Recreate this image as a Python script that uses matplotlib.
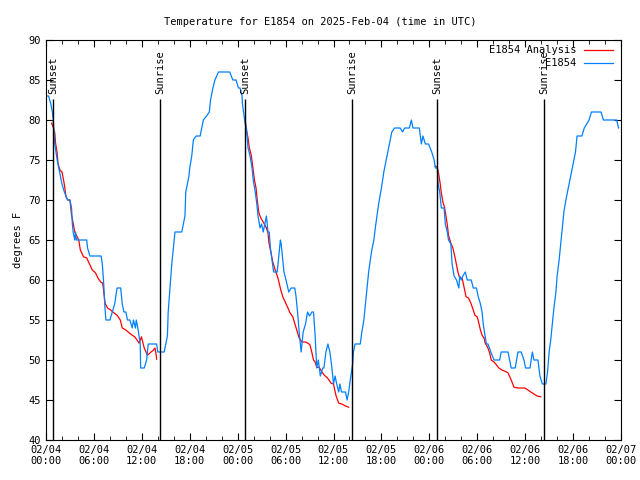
import pandas as pd
import matplotlib
matplotlib.use("Agg")
from matplotlib import pyplot as plt
import matplotlib.dates as mdates

base = pd.Timestamp("2025-02-04 00:00")

# observed temperature E1854 (hours since 02/04 00:00, degF)
obs_hours = [0.0, 0.33, 0.6, 0.8, 0.9, 1.1, 1.25, 1.4, 1.6, 1.8, 2.0, 2.3, 2.7, 3.0, 3.2, 3.3, 3.4, 3.6, 3.7, 3.8,
             5.1, 5.2, 5.5, 6.9, 7.05, 7.2, 7.35, 7.5, 8.0, 8.3, 8.6, 8.9, 9.35, 9.55, 9.75, 10.0, 10.2, 10.5, 10.8,
             10.95, 11.2, 11.3, 11.5, 11.8, 11.85, 12.3, 12.6, 12.8, 13.85, 14.0, 14.3, 14.8, 15.0, 15.2, 15.3, 15.45,
             15.6, 15.75, 15.95, 16.15, 16.3, 17.0, 17.2, 17.4, 17.5, 17.7, 17.9, 18.0, 18.25, 18.45, 18.8, 19.3, 19.5,
             19.7, 20.1, 20.45, 20.6, 20.9, 21.15, 21.6, 23.0, 23.4, 23.8, 24.1, 24.3, 24.55, 24.6, 24.8, 24.95, 25.1,
             25.3, 25.55, 25.8, 25.95, 26.2, 26.4, 26.55, 26.8, 27.0, 27.2, 27.5, 27.6, 27.8, 27.95, 28.1, 28.3, 28.5,
             28.7, 28.95, 29.1, 29.35, 29.45, 29.6, 29.8, 30.05, 30.4, 30.7, 31.15, 31.3, 31.5, 31.7, 31.95, 32.2, 32.5,
             32.75, 33.0, 33.3, 33.5, 33.7, 33.9, 34.1, 34.35, 34.65, 34.8, 35.05, 35.3, 35.55, 35.8, 36.0, 36.2, 36.4,
             36.65, 36.8, 37.0, 37.5, 37.7, 37.9, 38.1, 38.4, 38.5, 38.7, 39.35, 39.55, 39.8, 40.0, 40.2, 40.4, 40.75,
             41.05, 41.3, 41.65, 42.0, 42.3, 42.7, 43.0, 43.3, 43.65, 44.35, 44.65, 44.9, 45.5, 45.75, 45.95, 46.75,
             47.0, 47.2, 47.5, 47.9, 48.3, 48.6, 48.75, 49.0, 49.1, 49.3, 49.5, 49.85, 50.0, 50.25, 50.4, 50.7, 50.85,
             51.1, 51.4, 51.7, 51.8, 52.0, 52.2, 52.5, 52.75, 53.25, 53.5, 53.9, 54.1, 54.4, 54.6, 54.75, 54.9, 55.15,
             55.35, 55.7, 56.1, 56.8, 57.0, 57.85, 58.05, 58.25, 58.75, 59.1, 59.5, 59.85, 60.05, 60.6, 60.9, 61.1,
             61.3, 61.6, 61.85, 62.15, 62.3, 62.6, 62.8, 63.0, 63.2, 63.4, 63.6, 63.85, 64.0, 64.25, 64.45, 64.65,
             64.85, 65.1, 65.3, 65.5, 65.7, 65.9, 66.1, 66.3, 66.5, 67.1, 67.4, 67.7, 68.0, 68.3, 69.5, 69.8, 71.45,
             71.7]
obs_temp = [83, 83, 82, 81, 80, 77, 76, 75, 74, 73, 72, 71, 70, 70, 69, 67, 66, 65, 66, 65,
            65, 64, 63, 63, 62, 60, 57, 55, 55, 56, 57, 59, 59, 57, 56, 56, 55, 55, 54,
            55, 54, 55, 54, 52, 49, 49, 50, 52, 52, 51, 51, 51, 52, 53, 56, 58,
            60, 62, 64, 66, 66, 66, 67, 68, 71, 72, 73, 74, 75.5, 77.5, 78, 78, 79,
            80, 80.5, 81, 82.5, 84, 85, 86, 86, 85, 85, 84, 84, 83, 82, 80.5, 79.5, 79,
            76.5, 75.5, 74, 72.5, 71, 69.5, 68, 66.5, 67, 66, 67.5, 68, 66, 66, 64, 62.5, 61,
            61, 61, 62.5, 65, 64.5, 63, 61, 60, 58.5, 59, 59, 58, 56, 53.5, 51, 53.5, 54.5,
            56, 55.5, 56, 56, 53, 49, 50, 48, 49, 49, 51, 52, 51, 49, 47, 48, 47,
            46, 47, 46, 46, 45, 46, 47.5, 49.5, 51, 52, 52, 53.5, 55, 57, 59, 61, 63.5,
            65, 67, 69.5, 71.5, 73.5, 75.5, 77, 78.5, 79, 79, 78.5, 79, 79, 80, 79, 79,
            77, 78, 77, 77, 76, 75, 74, 74, 72, 71, 69, 69, 67, 66, 65, 64.5, 62,
            60.5, 60, 59, 60.5, 60, 60.5, 61, 60, 60, 59, 59, 58, 57, 56, 54.5, 53.5, 52,
            52, 51, 50, 50, 51, 51, 50, 49, 49, 51, 51, 50, 49, 49, 51, 50,
            50, 50, 48, 47, 47, 47, 48.5, 51, 52.5, 54.5, 56.5, 58.5, 60.5, 62.5, 64.5, 66.5,
            68.5, 70, 71, 72, 73, 74, 75, 76, 78, 78, 79, 79.5, 80, 81, 81, 80, 80,
            79]

# analysis series, one piece per night
ana_hours = [[0.7, 0.9, 1.1, 1.2, 1.4, 1.5, 1.75, 2.0, 2.2, 2.35, 2.5, 2.75, 3.0, 3.2, 3.4, 3.6, 3.9, 4.1, 4.3, 4.7,
              5.1, 5.4, 5.8, 6.2, 6.5, 6.85, 7.1, 7.25, 7.4, 7.7, 8.1, 8.5, 8.9, 9.3, 9.55, 10.0, 10.4, 10.8, 11.1,
              11.4, 11.65, 11.95, 12.3, 12.7, 13.45, 13.65, 13.8, 13.85],
             [24.95, 25.1, 25.3, 25.45, 25.7, 25.9, 26.1, 26.3, 26.45, 26.65, 26.9, 27.2, 27.55, 27.8, 27.9, 28.15,
              28.4, 28.7, 29.0, 29.2, 29.4, 29.65, 29.95, 30.25, 30.55, 30.9, 31.2, 31.5, 31.7, 32.05, 32.5, 32.8,
              33.05, 33.3, 33.5, 33.7, 33.9, 34.2, 34.55, 34.85, 35.25, 35.7, 36.0, 36.3, 36.65, 37.05, 37.5, 37.9],
             [48.75, 49.0, 49.2, 49.35, 49.5, 49.7, 49.9, 50.1, 50.25, 50.4, 50.7, 50.95, 51.2, 51.4, 51.6, 51.8,
              52.1, 52.35, 52.6, 52.9, 53.2, 53.5, 53.7, 54.0, 54.2, 54.4, 54.6, 54.85, 55.0, 55.3, 55.55, 55.75,
              56.1, 56.4, 56.7, 57.1, 57.45, 57.85, 58.25, 58.6, 59.1, 59.95, 60.35, 60.7, 61.1, 61.5, 61.95]]
ana_temp = [[79.6, 79.1, 78.4, 77.1, 75.9, 74.6, 73.75, 73.5, 72.5, 71.6, 70.4, 70, 70, 68.1, 67.1, 66, 65.4, 65, 63.75,
             62.9, 62.75, 62.1, 61.25, 60.9, 60.25, 59.75, 59.6, 58.4, 57.1, 56.5, 56.25, 55.9, 55.6, 55, 54, 53.75,
             53.4, 53.1, 52.9, 52.5, 52.1, 52.9, 51.5, 50.6, 51.25, 51.5, 50.6, 50.1],
            [80, 78.75, 77.75, 76.6, 75.6, 74.1, 72.5, 71.5, 70, 68.4, 67.75, 67.25, 66.6, 65.9, 64.75, 63.5,
             62.25, 61.25, 60.4, 59.6, 58.75, 57.9, 57.25, 56.6, 55.9, 55.4, 54.4, 53.4, 52.75, 52.25, 52.25, 52.1,
             51.9, 50.9, 50, 49.75, 49.1, 49.1, 48.5, 48.1, 47.75, 47.1, 47, 45.6, 44.6, 44.5, 44.25, 44.1],
            [74.25, 74.1, 73.1, 72.1, 70.9, 69.75, 69.1, 67.9, 66.9, 65.6, 64.6, 64, 62.9, 61.9, 60.9, 60.25,
             60.25, 59.1, 57.9, 57.75, 57.1, 56.25, 55.6, 55.4, 54.6, 53.75, 53.1, 52.75, 52.1, 51.6, 50.9, 50,
             49.75, 49.4, 49, 48.75, 48.6, 48.4, 47.5, 46.6, 46.5, 46.5, 46.25, 46, 45.75, 45.5, 45.4]]

sunset_hours = [0.9, 24.93, 48.95]
sunrise_hours = [14.3, 38.33, 62.4]


def to_time(hours):
    return base + pd.to_timedelta(hours, unit="h")


plt.rcParams["font.family"] = "DejaVu Sans Mono"
plt.rcParams["font.size"] = 7.5

fig = plt.figure(figsize=(6.4, 4.8), dpi=100)
ax = fig.add_axes([46 / 640, 40 / 480, 575 / 640, 400 / 480])

for h, t in zip(ana_hours, ana_temp):
    ax.plot(to_time(h), t, color="#ff0000", lw=0.9)
ax.plot(to_time(obs_hours), obs_temp, color="#0080ff", lw=0.9)

for h in sunset_hours + sunrise_hours:
    ax.vlines(to_time(h), 40, 82.6, color="black", lw=1)
for h in sunset_hours:
    ax.text(to_time(h), 83.2, "Sunset", rotation=90, ha="center", va="bottom")
for h in sunrise_hours:
    ax.text(to_time(h), 83.2, "Sunrise", rotation=90, ha="center", va="bottom")

# legend drawn by hand (text right aligned, sample line to its right)
ax.text(0.923, 0.975, "E1854 Analysis", transform=ax.transAxes, ha="right", va="center")
ax.text(0.923, 0.943, "E1854", transform=ax.transAxes, ha="right", va="center")
ax.plot([0.936, 0.986], [0.975, 0.975], transform=ax.transAxes, color="#ff0000", lw=0.9)
ax.plot([0.936, 0.986], [0.943, 0.943], transform=ax.transAxes, color="#0080ff", lw=0.9)

ax.set_xlim(base, base + pd.Timedelta(hours=72))
ax.set_ylim(40, 90)
ax.set_yticks(range(40, 91, 5))
ax.xaxis.set_major_locator(mdates.HourLocator(byhour=[0, 6, 12, 18]))
ax.xaxis.set_minor_locator(mdates.HourLocator(byhour=range(0, 24, 2)))
ax.xaxis.set_major_formatter(mdates.DateFormatter("%m/%d\n%H:%M"))
ax.tick_params(which="both", direction="in", top=True, right=True)
ax.tick_params(which="major", length=5)
ax.tick_params(which="minor", length=3)
ax.set_ylabel("degrees F")

fig.suptitle("Temperature for E1854 on 2025-Feb-04 (time in UTC)", y=0.965, fontsize=7.5)

plt.savefig("out.png", dpi=100)
